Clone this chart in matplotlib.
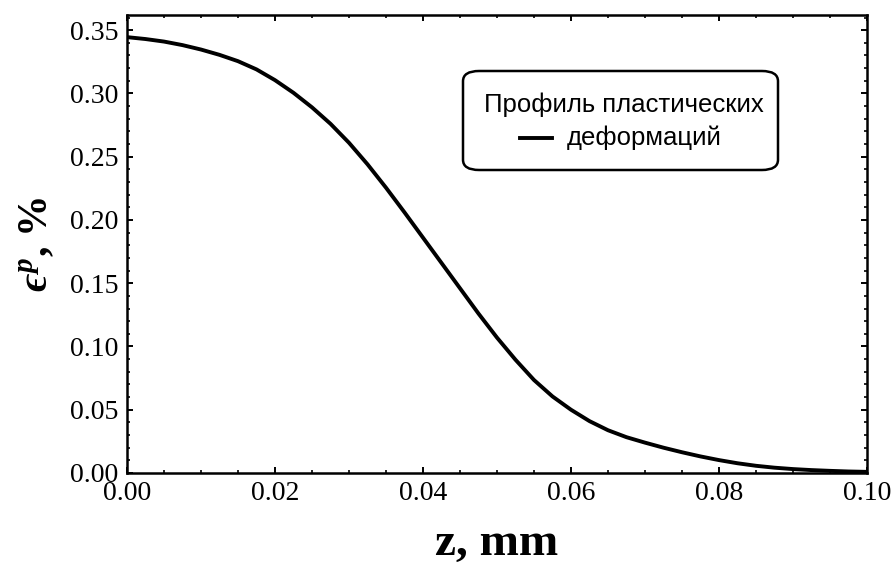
import matplotlib
matplotlib.use("Agg")
import matplotlib.pyplot as plt
from matplotlib.patches import FancyBboxPatch
from matplotlib.lines import Line2D
from matplotlib.ticker import MultipleLocator, FormatStrFormatter

# ---- data ----
z_mm = [0.0, 0.0025, 0.005, 0.0075, 0.01, 0.0125, 0.015, 0.0175, 0.02, 0.0225,
        0.025, 0.0275, 0.03, 0.0325, 0.035, 0.0375, 0.04, 0.0425, 0.045, 0.0475,
        0.05, 0.0525, 0.055, 0.0575, 0.06, 0.0625, 0.065, 0.0675, 0.07, 0.0725,
        0.075, 0.0775, 0.08, 0.0825, 0.085, 0.0875, 0.09, 0.0925, 0.095, 0.0975, 0.1]
eps_p = [0.3445, 0.343, 0.341, 0.3382, 0.3347, 0.3305, 0.3255, 0.319, 0.3105, 0.3005,
         0.289, 0.276, 0.261, 0.244, 0.2255, 0.206, 0.186, 0.166, 0.146, 0.126,
         0.107, 0.0895, 0.0735, 0.0605, 0.050, 0.041, 0.0338, 0.0283, 0.0240, 0.0200,
         0.0164, 0.0131, 0.0102, 0.0077, 0.0057, 0.0042, 0.0031, 0.0023, 0.0017, 0.0012, 0.0009]
legend_lines = ["Профиль пластических", "деформаций"]
x_label = "z, mm"
y_label = "$\u03f5^{p}$, %"

plt.rcParams['mathtext.fontset'] = 'custom'
plt.rcParams['mathtext.rm'] = 'Liberation Serif:bold'
plt.rcParams['mathtext.it'] = 'Liberation Serif:bold:italic'
plt.rcParams['mathtext.bf'] = 'Liberation Serif:bold'
plt.rcParams['mathtext.fallback'] = 'stix'

W, H = 894, 569
fig = plt.figure(figsize=(W / 100, H / 100), dpi=100)
L, R, T, B = 127, 867, 15, 473
ax = fig.add_axes([L / W, 1 - B / H, (R - L) / W, (B - T) / H])

ax.plot(z_mm, eps_p, color='black', lw=2.8, solid_joinstyle='round')
ax.set_xlim(0, 0.10)
ax.set_ylim(0, 0.362)

ax.xaxis.set_major_locator(MultipleLocator(0.02))
ax.xaxis.set_minor_locator(MultipleLocator(0.005))
ax.yaxis.set_major_locator(MultipleLocator(0.05))
ax.yaxis.set_minor_locator(MultipleLocator(0.01))
ax.xaxis.set_major_formatter(FormatStrFormatter('%.2f'))
ax.yaxis.set_major_formatter(FormatStrFormatter('%.2f'))

ax.tick_params(which='both', direction='in', top=True, right=True, color='black')
ax.tick_params(which='major', length=4.5, width=1.4, pad=6, labelsize=20)
ax.tick_params(which='minor', length=2.4, width=1.2)
for lab in ax.get_xticklabels() + ax.get_yticklabels():
    lab.set_fontfamily('Liberation Serif')
for s in ax.spines.values():
    s.set_linewidth(1.8)

ax.set_xlabel(x_label, fontsize=34, fontweight='bold', family='Liberation Serif', labelpad=12)
ax.set_ylabel(y_label, fontsize=30, fontweight='bold', family='Liberation Serif', labelpad=10)

# legend box
bx0, by0, bx1, by1 = 463, 71, 778, 170
box = FancyBboxPatch(((bx0) / W, 1 - by1 / H), (bx1 - bx0) / W, (by1 - by0) / H,
                     boxstyle="round,pad=0,rounding_size=0.018", transform=fig.transFigure,
                     facecolor='white', edgecolor='black', linewidth=1.8, zorder=5)
fig.patches.append(box)
fig.text(624 / W, 1 - 105 / H, legend_lines[0], ha='center', va='center', fontsize=18.5,
         family='Liberation Sans', zorder=6)
fig.text(567 / W, 1 - 138 / H, legend_lines[1], ha='left', va='center', fontsize=18.5,
         family='Liberation Sans', zorder=6)
fig.lines.append(Line2D([520 / W, 552 / W], [1 - 138 / H, 1 - 138 / H], transform=fig.transFigure,
                        color='black', lw=2.8, zorder=6))

fig.savefig('out.png', dpi=100)
